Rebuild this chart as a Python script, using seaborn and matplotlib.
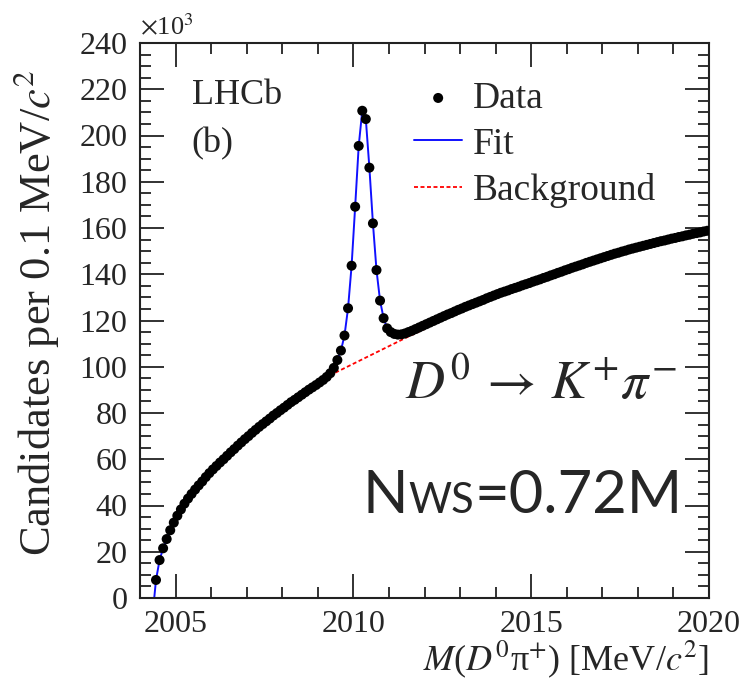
import numpy as np
import pandas as pd
import matplotlib
matplotlib.use("Agg")
import matplotlib.pyplot as plt
import seaborn as sns

# -- data ---------------------------------------------------------------------
bin_lo = 2004.4          # MeV/c^2, first filled bin edge
bin_width = 0.1          # MeV/c^2
counts = [                # candidates per bin, x10^3
    7.8, 16.4, 21.5, 25.5, 29.3, 32.6, 35.6, 38.3, 40.8, 43.0,
    45.0, 46.9, 48.7, 50.4, 52.3, 54.0, 55.6, 57.1, 58.6, 60.0,
    61.5, 63.0, 64.4, 65.9, 67.3, 68.7, 70.0, 71.4, 72.7, 74.0,
    75.2, 76.4, 77.6, 78.9, 80.0, 81.2, 82.3, 83.5, 84.7, 85.7,
    86.8, 87.9, 89.0, 90.1, 91.1, 92.1, 93.2, 94.3, 95.6, 97.2,
    99.5, 102.9, 107.0, 113.5, 125.3, 143.7, 169.2, 195.5, 210.7, 207.1,
    186.1, 162.0, 141.8, 128.6, 121.0, 116.6, 115.0, 114.2, 113.9, 114.0,
    114.4, 115.0, 115.6, 116.3, 117.0, 117.7, 118.4, 119.1, 119.8, 120.5,
    121.2, 121.9, 122.6, 123.2, 123.9, 124.6, 125.2, 125.9, 126.5, 127.1,
    127.7, 128.3, 128.9, 129.6, 130.2, 130.8, 131.4, 132.0, 132.5, 133.0,
    133.6, 134.1, 134.6, 135.2, 135.7, 136.2, 136.8, 137.3, 137.8, 138.4,
    138.9, 139.5, 140.0, 140.6, 141.1, 141.7, 142.2, 142.8, 143.3, 143.8,
    144.3, 144.9, 145.4, 145.9, 146.4, 146.9, 147.4, 147.9, 148.4, 148.9,
    149.3, 149.8, 150.2, 150.7, 151.1, 151.5, 151.9, 152.3, 152.7, 153.1,
    153.5, 153.9, 154.3, 154.6, 155.0, 155.4, 155.7, 156.1, 156.4, 156.8,
    157.1, 157.5, 157.8, 158.1, 158.5, 158.8,
]
threshold_mass = [2004.0, 2004.4]   # fit is zero below threshold
threshold_vals = [0.0, 0.0]
bkg_mass = [2009.0, 2009.25, 2009.5, 2009.75, 2010.0, 2010.25, 2010.5,
            2010.75, 2011.0, 2011.25, 2011.5, 2011.75, 2012.0]
bkg_vals = [93.7, 95.6, 97.5, 99.4, 101.3, 103.2, 105.1,
            107.0, 108.9, 110.8, 112.7, 114.5, 116.3]

x_ticks = [2005, 2010, 2015, 2020]
y_ticks = list(range(0, 241, 20))

mass = bin_lo + bin_width * (np.arange(len(counts)) + 0.5)
df = pd.DataFrame({"mass": mass, "counts": counts})
fit_df = pd.DataFrame({"mass": np.concatenate([threshold_mass, mass]),
                       "counts": threshold_vals + counts})
bkg_df = pd.DataFrame({"mass": bkg_mass, "counts": bkg_vals})

# -- style ---------------------------------------------------------------------
sns.set_style("ticks")
plt.rcParams["font.family"] = ["Liberation Serif", "DejaVu Serif"]
plt.rcParams["mathtext.fontset"] = "stix"

W, H = 743, 685
fig = plt.figure(figsize=(W / 100, H / 100), dpi=100)
ax = fig.add_axes([140 / W, 1 - 598 / H, 569 / W, 555 / H])

sns.lineplot(data=bkg_df, x="mass", y="counts", ax=ax, color="red",
             linestyle=(0, (2.2, 1.4)), linewidth=1.3, label="Background",
             estimator=None, sort=False)
sns.lineplot(data=fit_df, x="mass", y="counts", ax=ax, color="#1010ff",
             linewidth=1.4, label="Fit", estimator=None, sort=False)
sns.scatterplot(data=df, x="mass", y="counts", ax=ax, color="black",
                s=52, edgecolor="none", label="Data", zorder=3)

ax.set_xlim(2004, 2020)
ax.set_ylim(0, 240)
ax.set_xticks(x_ticks)
ax.set_yticks(y_ticks)
ax.set_xticks(np.arange(2004, 2021, 1), minor=True)
ax.set_yticks(np.arange(0, 241, 5), minor=True)
ax.tick_params(which="both", direction="in", top=True, right=True,
               labelsize=23, width=1.3, color="#222222")
ax.tick_params(which="major", length=17)
ax.tick_params(axis="x", which="major", pad=9)
ax.tick_params(axis="y", which="major", pad=9)
ax.tick_params(which="minor", length=8)
for sp in ax.spines.values():
    sp.set_linewidth(1.5)
    sp.set_color("#222222")

ax.set_xlabel(r"$M$($D^{0}$π$^{+}$) [MeV/$c^{2}$]", fontsize=26,
              loc="right")
ax.xaxis.set_label_coords(1.0, -0.073)
ax.set_ylabel(r"Candidates per 0.1 MeV/$c^{2}$", fontsize=32, loc="top")
ax.yaxis.set_label_coords(-0.139, 0.953)

ax.text(0.0, 1.005, r"$\times$10$^{3}$", transform=ax.transAxes,
        fontsize=19, ha="left", va="bottom")
ax.text(0.091, 0.906, "LHCb", transform=ax.transAxes, fontsize=26,
        ha="left", va="center")
ax.text(0.091, 0.818, "(b)", transform=ax.transAxes, fontsize=26,
        ha="left", va="center")

handles, labels = ax.get_legend_handles_labels()
order = [labels.index(k) for k in ["Data", "Fit", "Background"]]
ax.legend([handles[i] for i in order], [labels[i] for i in order],
          loc="upper left", bbox_to_anchor=(0.4815, 0.931), frameon=False,
          fontsize=27, handlelength=1.29, handletextpad=0.27,
          labelspacing=0.30, borderpad=0, borderaxespad=0, markerscale=1.0)

ax.text(0.705, 0.382, r"$D^{0}\,\rightarrow\,K^{+}\pi^{-}$",
        transform=ax.transAxes, fontsize=39, ha="center", va="center")

# N_WS = 0.72M, sans text in three pieces sharing one baseline
base_y = 1 - 513 / H
t1 = fig.text(363 / W, base_y, "N", fontsize=43, family="Lato",
              va="baseline", ha="left")
fig.canvas.draw()
r = fig.canvas.get_renderer()
x1 = t1.get_window_extent(r).x1 / W
t2 = fig.text(x1, base_y, "WS", fontsize=30, family="Lato",
              va="baseline", ha="left")
fig.canvas.draw()
x2 = t2.get_window_extent(r).x1 / W
fig.text(x2, base_y, "=0.72M", fontsize=43, family="Lato",
         va="baseline", ha="left")

fig.savefig("out.png", dpi=100)
